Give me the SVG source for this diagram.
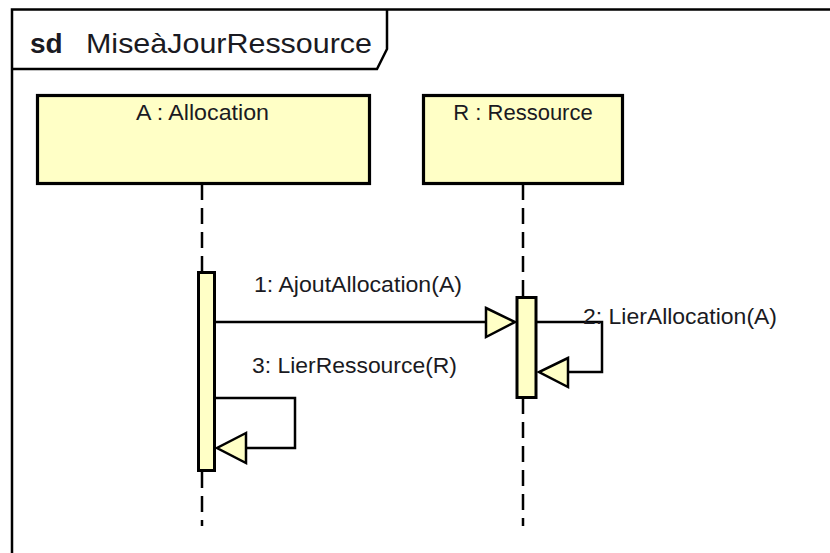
<svg xmlns="http://www.w3.org/2000/svg" width="830" height="553" viewBox="0 0 830 553">
<style>
.t{font-family:"Liberation Sans",Arial,sans-serif;fill:#1a1a22}
.lbl{font-size:22px}
.box{fill:#ffffc6;stroke:#000;stroke-width:3.2}
.act{fill:#ffffc6;stroke:#000;stroke-width:3}
.life{stroke:#000;stroke-width:2.5;stroke-dasharray:16 8;fill:none}
.msg{stroke:#000;stroke-width:2.5;fill:none}
.head{fill:#ffffc6;stroke:#000;stroke-width:2.5;stroke-linejoin:miter}
</style>
<rect width="830" height="553" fill="#fff"/>
<g id="frame">
<path d="M12,553 V9.5 H830" fill="none" stroke="#000" stroke-width="2.5"/>
<path d="M12,69 H377 L387,49 V9.5" fill="none" stroke="#000" stroke-width="2.5"/>
<text class="t" x="30" y="53" font-size="28" font-weight="bold">sd</text>
<text class="t" x="86" y="53" font-size="28" textLength="286" lengthAdjust="spacingAndGlyphs">MiseàJourRessource</text>
</g>
<g id="lifelines">
<path class="life" d="M202,184 V272"/>
<path class="life" d="M202,472 V526"/>
<path class="life" d="M523,184 V297"/>
<path class="life" d="M523,398 V526"/>
</g>
<g id="A">
<rect class="box" x="37.5" y="95.5" width="332" height="88"/>
<text class="t lbl" x="136" y="120" textLength="133" lengthAdjust="spacingAndGlyphs">A : Allocation</text>
</g>
<g id="R">
<rect class="box" x="423.5" y="95.5" width="199" height="88"/>
<text class="t lbl" x="523" y="120" text-anchor="middle">R : Ressource</text>
</g>
<g id="actA">
<rect class="act" x="198.5" y="272.5" width="16" height="198"/>
</g>
<g id="actR">
<rect class="act" x="517" y="297.5" width="19" height="100"/>
</g>
<g id="connectors">
<path class="msg" d="M215,322 H486"/>
<path class="head" d="M486,308 L515,322 L486,337 Z"/>
<path class="msg" d="M537,322 H602 V372 H568"/>
<path class="head" d="M568,358 L539,372 L568,387 Z"/>
<path class="msg" d="M215,398 H295 V448 H246"/>
<path class="head" d="M246,433 L217,448 L246,463 Z"/>
</g>
<g id="labels">
<text class="t lbl" x="254" y="292" textLength="208" lengthAdjust="spacingAndGlyphs">1: AjoutAllocation(A)</text>
<text class="t lbl" x="583" y="324" textLength="194" lengthAdjust="spacingAndGlyphs">2: LierAllocation(A)</text>
<text class="t lbl" x="252" y="373" textLength="205" lengthAdjust="spacingAndGlyphs">3: LierRessource(R)</text>
</g>
</svg>
